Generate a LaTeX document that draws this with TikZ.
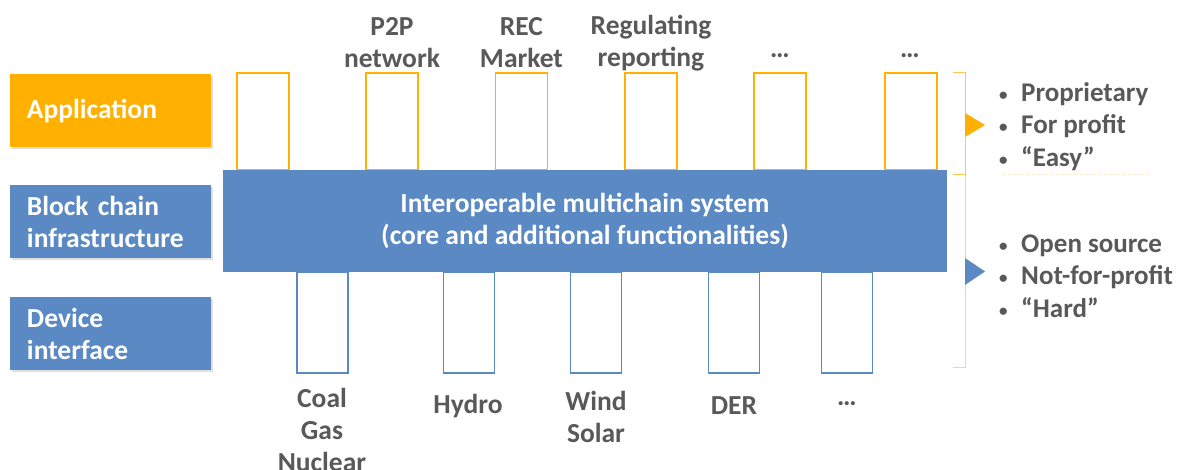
\documentclass[tikz,border=0pt]{standalone}
\usepackage{fontspec}
\setmainfont{Carlito}
\usetikzlibrary{shadows}
\definecolor{appOrange}{HTML}{FFB000}
\definecolor{chainBlue}{HTML}{5A89C4}
\definecolor{txtGrey}{HTML}{595959}
\definecolor{brGrey}{HTML}{D3D9E2}
\definecolor{dotYellow}{HTML}{F2E3A6}
\tikzset{
  x=1pt, y=-1pt,
  every node/.style={font=\fontsize{27.5}{32}\selectfont\bfseries},
  layerbox/.style={fill=#1, text=white, minimum height=73pt, text width=167pt,
    inner xsep=17pt, align=left,
    drop shadow={shadow xshift=1.5pt, shadow yshift=-2pt, opacity=0.25, fill=gray}},
  apptab/.style={draw=appOrange, line width=1.6pt, minimum width=52pt, minimum height=97pt, inner sep=0pt},
  devtab/.style={draw=chainBlue, line width=1.3pt, minimum width=51pt, minimum height=101pt, inner sep=0pt},
  lbl/.style={text=txtGrey, align=center, inner sep=0pt},
  blist/.style={text=txtGrey, align=left, anchor=west, inner sep=0pt,
    font=\fontsize{27}{32.5}\selectfont\bfseries},
}
\newcommand{\bul}[1]{\makebox[22pt][l]{\raisebox{1pt}{\fontsize{17}{17}\selectfont\textbullet}}#1}
\begin{document}
\begin{tikzpicture}
\useasboundingbox[fill=white] (0,0) rectangle (1179,470);

% layer labels on the left
\node[layerbox=appOrange] (app) at (110.5,110.5) {Application};
\node[layerbox=chainBlue] (bc)  at (110.5,221.5) {Block chain\\infrastructure};
\node[layerbox=chainBlue] (dev) at (110.5,333.5) {Device\\interface};

% application tabs above the chain bar
\foreach \n/\x in {1/263,2/392,3/521.5,4/651,5/780,6/911}
  \node[apptab] (a\n) at (\x,121.5) {};

% device tabs below the chain bar
\foreach \n/\x in {1/322.5,2/469,3/596,4/734,5/847}
  \node[devtab] (d\n) at (\x,322.5) {};

% central multichain bar
\node[fill=chainBlue, text=white, minimum width=724pt, minimum height=102pt, align=center]
  (bar) at (585,221) {Interoperable multichain system\\(core and additional functionalities)};

% application names
\node[lbl] (l2) at (392,43) {P2P\\network};
\node[lbl] (l3) at (521.5,43) {REC\\Market};
\node[lbl] (l4) at (651,43) {Regulating\\reporting};
\node[lbl] (l5) at (780,56) {…};
\node[lbl] (l6) at (910,56) {…};

% device names
\node[lbl] (b1) at (322,430) {Coal\\Gas\\Nuclear};
\node[lbl] (b2) at (468,406) {Hydro};
\node[lbl] (b3) at (596,417) {Wind\\Solar};
\node[lbl] (b4) at (734,406) {DER};
\node[lbl] (b5) at (847,404) {…};

% brackets on the right
\coordinate (ot) at (965,73);
\coordinate (ob) at (965,175);
\coordinate (gb) at (965,368);
\draw[appOrange!70, line width=1pt] ([xshift=-12pt]ot) -- (ot) -- (ob) -- ([xshift=-12pt]ob);
\draw[brGrey, line width=1pt] (ob) -- (gb) -- ([xshift=-12pt]gb);
\fill[appOrange] (965,113) -- (985,125) -- (965,137) -- cycle;
\fill[chainBlue] (965,258) -- (985,271.5) -- (965,285) -- cycle;
\draw[dotYellow, line width=1pt, dotted] (1002,175) -- (1152,175);

% properties of each layer group
\node[blist] (p1) at (999,126.5) {\bul{Proprietary}\\\bul{For profit}\\\bul{“Easy”}};
\node[blist] (p2) at (999,276) {\bul{Open source}\\\bul{Not-for-profit}\\\bul{“Hard”}};
\end{tikzpicture}
\end{document}
